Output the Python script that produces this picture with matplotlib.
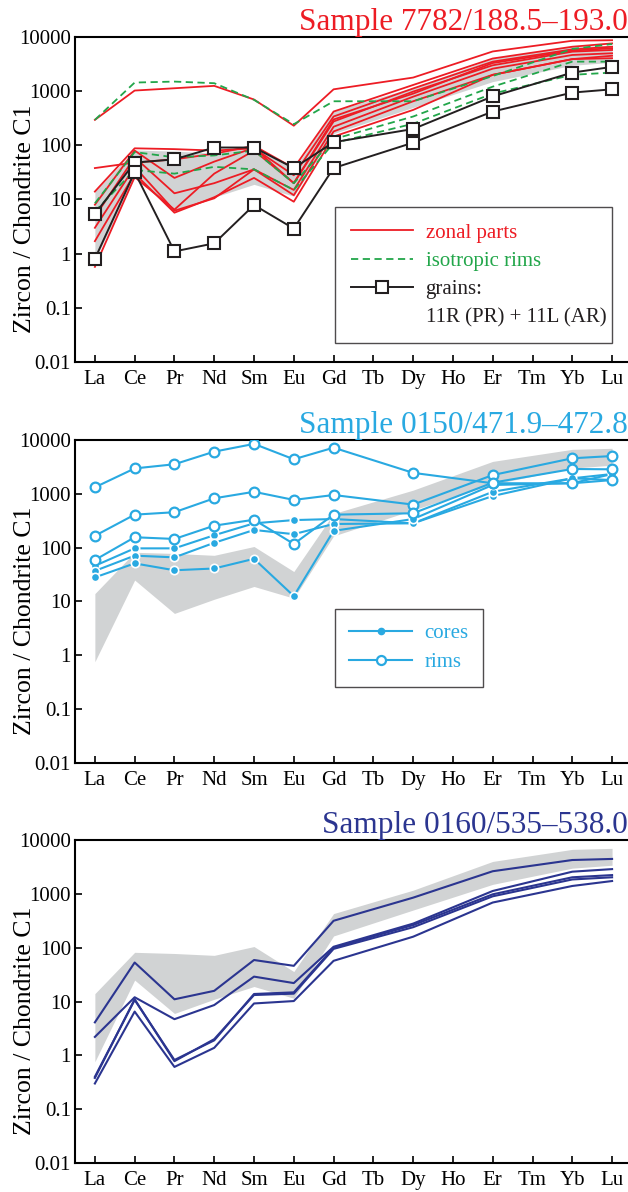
import matplotlib
matplotlib.use('Agg')
import matplotlib.pyplot as plt
from matplotlib.lines import Line2D

plt.rcParams['font.family'] = ['Liberation Serif', 'DejaVu Serif']

# REE order on the x axis; only some of them were measured
elements = ['La', 'Ce', 'Pr', 'Nd', 'Sm', 'Eu', 'Gd', 'Tb', 'Dy', 'Ho', 'Er', 'Tm', 'Yb', 'Lu']
measured = ['La', 'Ce', 'Pr', 'Nd', 'Sm', 'Eu', 'Gd', 'Dy', 'Er', 'Yb', 'Lu']

# reference field (grey band), same in all three panels
band_lo = [0.76, 25, 6, 11, 19, 11.5, 165, 500, 1500, 3000, 3400]
band_hi = [14, 82, 78, 72, 105, 36, 430, 1170, 4000, 6700, 7000]

# --- sample 7782/188.5-193.0
zonal = [
    [295, 1025, 1130, 1250, 700, 230, 1080, 1780, 5400, 8500, 8700],
    [38, 48, 55, 70, 98, 38, 420, 1300, 4000, 6600, 7600],
    [14, 88, 85, 80, 88, 28, 340, 1120, 3500, 5900, 6600],
    [8, 80, 25, 50, 90, 20, 275, 980, 3000, 5350, 5750],
    [4.8, 60, 13, 20, 36, 15, 220, 790, 2600, 4650, 5000],
    [3, 40, 6.2, 10.5, 36, 12, 180, 650, 2000, 3900, 4050],
    [1.7, 30, 5.7, 11, 25, 9.1, 145, 450, 2000, 3900, 4500],
    [0.57, 26, 6.5, 30, 80, 20, 300, 900, 3300, 5600, 6200],
]
iso_rims = [
    [295, 1440, 1500, 1400, 690, 245, 650, 650, 1900, 6000, 7400],
    [8.5, 75, 60, 65, 80, 20, 130, 340, 1210, 3500, 3500],
    [6, 35, 30, 40, 36, 15, 110, 250, 900, 2000, 2200],
]
grain_11R = [5.4, 48, 55, 91, 91, 38, 114, 200, 800, 2200, 2800]
grain_11L = [0.8, 32, 1.1, 1.55, 7.9, 2.9, 38, 112, 420, 940, 1080]

# --- sample 0150/471.9-472.8
rims_0150 = [
    [1320, 2960, 3540, 6070, 8450, 4380, 7190, 2450, 1570, 1570, 1800],
    [166, 410, 455, 825, 1090, 770, 950, 630, 2230, 4570, 5030],
    [59, 156, 145, 256, 330, 117, 410, 435, 1610, 2890, 2850],
]
cores_0150 = [
    [46, 97, 97, 170, 283, 325, 340, 283, 910, 1940, 2330],
    [37, 71, 66, 123, 213, 178, 275, 283, 1090, 1940, 1800],
    [28, 51, 38, 41, 62, 12.6, 205, 340, 1460, 1570, 2330],
]

# --- sample 0160/535-538.0
lines_0160 = [
    [4.1, 53, 11, 15.8, 59, 46, 316, 850, 2630, 4250, 4450],
    [2.2, 12, 4.7, 8.6, 29, 22, 104, 280, 1130, 2580, 2880],
    [0.40, 10.7, 0.82, 1.9, 13.8, 14.8, 100, 263, 980, 2030, 2230],
    [0.38, 11, 0.78, 2.0, 13.2, 14.0, 95, 240, 900, 1850, 2030],
    [0.30, 6.5, 0.61, 1.38, 9.2, 10.2, 57, 160, 690, 1400, 1730],
]

RED = '#ED1C24'
GREEN = '#22A64A'
LBLUE = '#29A9E1'
DBLUE = '#2B3590'
GREY = '#D1D3D4'
BLACK = '#231F20'

x = [elements.index(e) for e in measured]

fig = plt.figure(figsize=(6.28, 11.92), dpi=100)
ax1 = fig.add_axes([0.1194, 0.6963, 0.8806, 0.2727])
ax2 = fig.add_axes([0.1194, 0.3599, 0.8806, 0.2710])
ax3 = fig.add_axes([0.1194, 0.0243, 0.8806, 0.2710])


def style_axis(ax, title, color):
    ax.set_yscale('log')
    ax.set_ylim(0.01, 10000)
    ax.set_xlim(-0.5, 13.4)
    ax.set_xticks(range(len(elements)))
    ax.set_xticklabels(elements)
    ax.set_yticks([0.01, 0.1, 1, 10, 100, 1000, 10000])
    ax.set_yticklabels(['0.01', '0.1', '1', '10', '100', '1000', '10000'])
    ax.minorticks_off()
    ax.tick_params(direction='in', length=5, width=1.2, labelsize=15, pad=6)
    ax.tick_params(axis='y', pad=3)
    ax.spines['right'].set_visible(False)
    for s in ['left', 'top', 'bottom']:
        ax.spines[s].set_linewidth(1.5)
    ax.set_ylabel('Zircon / Chondrite C1', fontsize=18.5)
    ax.yaxis.set_label_coords(-0.07, 0.44)
    ax.set_title(title, loc='right', color=color, fontsize=22.5, pad=2)
    ax.fill_between(x, band_lo, band_hi, color=GREY, lw=0, zorder=1)


# top panel
style_axis(ax1, 'Sample 7782/188.5\u2013193.0', RED)
for v in zonal:
    ax1.plot(x, v, color=RED, lw=1.3, zorder=3)
for v in iso_rims:
    ax1.plot(x, v, color=GREEN, lw=1.3, ls=(0, (4, 2.5)), zorder=4)
for v in [grain_11R, grain_11L]:
    ax1.plot(x, v, color=BLACK, lw=1.4, marker='s', ms=8, mfc='white', mec=BLACK,
             mew=1.5, zorder=5)

handles1 = [
    Line2D([], [], color=RED, lw=1.3),
    Line2D([], [], color=GREEN, lw=1.3, ls=(0, (4, 2.5))),
    Line2D([], [], color=BLACK, lw=1.4, marker='s', ms=8, mfc='white', mec=BLACK, mew=1.5),
    Line2D([], [], color='none'),
]
labels1 = ['zonal parts', 'isotropic rims', 'grains:', '11R (PR) + 11L (AR)']
leg1 = ax1.legend(handles1, labels1, loc='lower left', bbox_to_anchor=(0.47, 0.058, 0.501, 0.42),
                  mode='expand', borderaxespad=0, fontsize=15, frameon=True, fancybox=False,
                  edgecolor=BLACK, handlelength=3.0, handletextpad=0.6, labelspacing=0.42,
                  borderpad=0.75)
leg1.get_frame().set_linewidth(1.0)
for t, c in zip(leg1.get_texts(), [RED, GREEN, BLACK, BLACK]):
    t.set_color(c)

# middle panel
style_axis(ax2, 'Sample 0150/471.9\u2013472.8', LBLUE)
for v in cores_0150:
    ax2.plot(x, v, color=LBLUE, lw=1.5, marker='o', ms=6, mfc=LBLUE, mec='white', mew=1.2, zorder=3)
for v in rims_0150:
    ax2.plot(x, v, color=LBLUE, lw=1.5, marker='o', ms=7, mfc='white', mec=LBLUE, mew=1.6, zorder=4)
handles2 = [
    Line2D([], [], color=LBLUE, lw=1.5, marker='o', ms=4.5, mfc=LBLUE, mec=LBLUE),
    Line2D([], [], color=LBLUE, lw=1.5, marker='o', ms=6.5, mfc='white', mec=LBLUE, mew=1.6),
]
leg2 = ax2.legend(handles2, ['cores', 'rims'], loc='upper left', bbox_to_anchor=(0.47, 0.477),
                  borderaxespad=0, fontsize=15, frameon=True, fancybox=False, edgecolor=BLACK,
                  handlelength=3.0, handletextpad=0.6, labelspacing=0.45, borderpad=0.7)
leg2.get_frame().set_linewidth(1.0)
for t in leg2.get_texts():
    t.set_color(LBLUE)

# bottom panel
style_axis(ax3, 'Sample 0160/535\u2013538.0', DBLUE)
for v in lines_0160:
    ax3.plot(x, v, color=DBLUE, lw=1.5, zorder=3)

fig.savefig('out.png', dpi=100)
